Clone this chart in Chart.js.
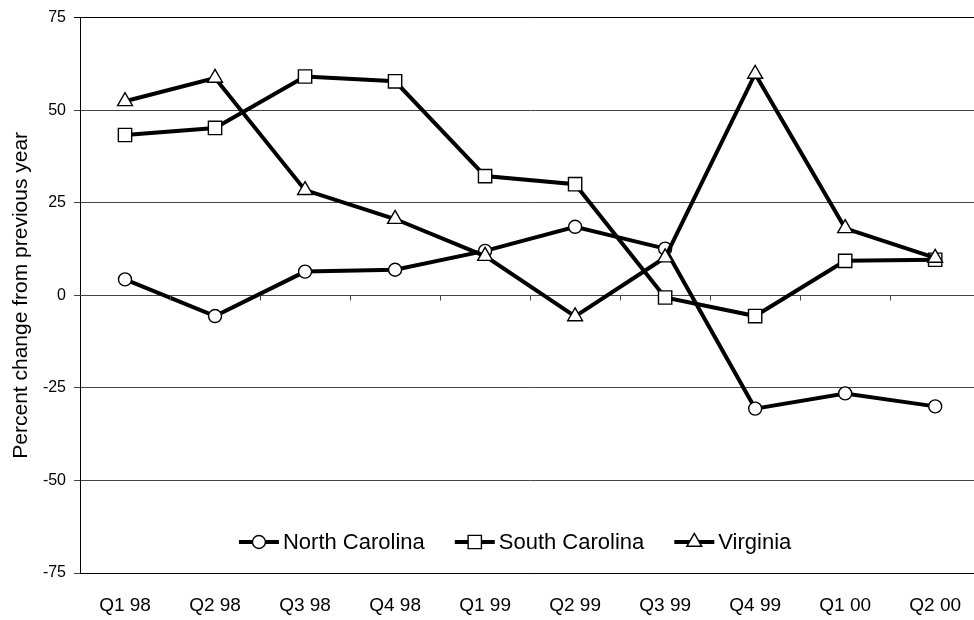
<!DOCTYPE html>
<html>
<head>
<meta charset="utf-8">
<title>Percent change from previous year</title>
<script src="https://cdn.jsdelivr.net/npm/chart.js@4/dist/chart.umd.min.js"></script>
<style>
  html, body { margin: 0; padding: 0; background: #fff; overflow: hidden; }
  #wrap { width: 991px; height: 620px; position: relative; }
</style>
</head>
<body>
<div id="wrap"><canvas id="chart"></canvas></div>
<script>
// Quarters on the category axis
const quarters = ['Q1 98', 'Q2 98', 'Q3 98', 'Q4 98', 'Q1 99', 'Q2 99', 'Q3 99', 'Q4 99', 'Q1 00', 'Q2 00'];

// Percent change from previous year, by state
const northCarolina = [4.3, -5.6, 6.4, 6.9, 12.0, 18.5, 12.6, -30.6, -26.5, -30.0];
const southCarolina = [43.3, 45.2, 59.1, 57.8, 32.2, 30.0, -0.6, -5.6, 9.3, 9.6];
const virginia      = [52.4, 58.7, 28.4, 20.6, 10.6, -5.7, 10.2, 59.8, 18.1, 10.1];

// Value axis ticks
const yTicks = [-75, -50, -25, 0, 25, 50, 75];

const FONT = "'Liberation Sans', Arial, Helvetica, sans-serif";

const seriesStyle = [
  { label: 'North Carolina', data: northCarolina, pointStyle: 'circle',   pointRadius: 6.5, order: 2 },
  { label: 'South Carolina', data: southCarolina, pointStyle: 'rect',     pointRadius: 9.4, order: 1 },
  { label: 'Virginia',       data: virginia,      pointStyle: 'triangle', pointRadius: 8.6, order: 0 }
];

const datasets = seriesStyle.map(s => ({
  label: s.label,
  data: s.data,
  order: s.order,
  borderColor: '#000',
  borderWidth: 4,
  tension: 0,
  fill: false,
  pointStyle: s.pointStyle,
  pointRadius: s.pointRadius,
  pointHoverRadius: s.pointRadius,
  pointBackgroundColor: '#fff',
  pointBorderColor: '#000',
  pointBorderWidth: 1.4
}));

// Small tick marks on the zero line at category boundaries
const zeroLineTicks = {
  id: 'zeroLineTicks',
  afterDraw(chart) {
    const { ctx, scales: { x, y } } = chart;
    const y0 = Math.round(y.getPixelForValue(0)) + 0.5;
    const n = quarters.length;
    ctx.save();
    ctx.strokeStyle = '#444';
    ctx.lineWidth = 1;
    ctx.beginPath();
    for (let i = 1; i < n; i++) {
      const bx = Math.round((x.getPixelForValue(i - 1) + x.getPixelForValue(i)) / 2) + 0.5;
      ctx.moveTo(bx, y0);
      ctx.lineTo(bx, y0 + 5);
    }
    ctx.stroke();
    ctx.restore();
  }
};

// Legend drawn inside the plot: line segment with marker, then the name
const inlineLegend = {
  id: 'inlineLegend',
  afterDraw(chart) {
    const { ctx, chartArea } = chart;
    const fontSize = 22;
    const segLen = 40, textGap = 4, itemGap = 30;
    ctx.save();
    ctx.font = fontSize + 'px ' + FONT;
    const widths = chart.data.datasets.map(d => ctx.measureText(d.label).width);
    const total = widths.reduce((a, w) => a + segLen + textGap + w, 0) + itemGap * (widths.length - 1);
    let xPos = (chartArea.left + chartArea.right) / 2 - 15 - total / 2;
    const yPos = chartArea.bottom - 31;
    chart.data.datasets.forEach((d, i) => {
      ctx.strokeStyle = '#000';
      ctx.lineWidth = 4;
      ctx.beginPath();
      ctx.moveTo(xPos, yPos);
      ctx.lineTo(xPos + segLen, yPos);
      ctx.stroke();
      ctx.fillStyle = '#fff';
      ctx.strokeStyle = '#000';
      ctx.lineWidth = 1.4;
      Chart.helpers.drawPoint(ctx, { pointStyle: d.pointStyle, radius: d.pointRadius, rotation: 0, borderWidth: 1.4 }, xPos + segLen / 2, yPos);
      ctx.fillStyle = '#000';
      ctx.textBaseline = 'middle';
      ctx.textAlign = 'left';
      ctx.fillText(d.label, xPos + segLen + textGap, yPos + 1);
      xPos += segLen + textGap + widths[i] + itemGap;
    });
    ctx.restore();
  }
};

new Chart(document.getElementById('chart'), {
  type: 'line',
  data: { labels: quarters, datasets },
  options: {
    responsive: true,
    maintainAspectRatio: false,
    devicePixelRatio: 1,
    animation: false,
    events: [],
    layout: { padding: { left: 0, right: 0, top: 16, bottom: 0 } },
    plugins: {
      legend: { display: false },
      tooltip: { enabled: false },
      title: { display: false }
    },
    scales: {
      x: {
        type: 'category',
        offset: true,
        grid: { display: false, drawTicks: false },
        border: { display: true, color: '#000', width: 1 },
        ticks: {
          color: '#000',
          font: { family: FONT, size: 19 },
          padding: 21,
          maxRotation: 0,
          autoSkip: false
        },
        afterFit(scale) { scale.height = 47; }
      },
      y: {
        min: -75,
        max: 75,
        afterBuildTicks(scale) { scale.ticks = yTicks.map(v => ({ value: v })); },
        grid: {
          color: ctx => (ctx.tick && ctx.tick.value === 75) ? '#000' : '#444',
          lineWidth: 1,
          drawTicks: true,
          tickLength: 6
        },
        border: { display: true, color: '#000', width: 1 },
        ticks: {
          color: '#000',
          font: { family: FONT, size: 16 },
          padding: 8
        },
        title: {
          display: true,
          text: 'Percent change from previous year',
          color: '#000',
          font: { family: FONT, size: 21 },
          padding: { top: 9, bottom: 0 }
        },
        afterFit(scale) { scale.width = 80; }
      }
    }
  },
  plugins: [zeroLineTicks, inlineLegend]
});
</script>
</body>
</html>
